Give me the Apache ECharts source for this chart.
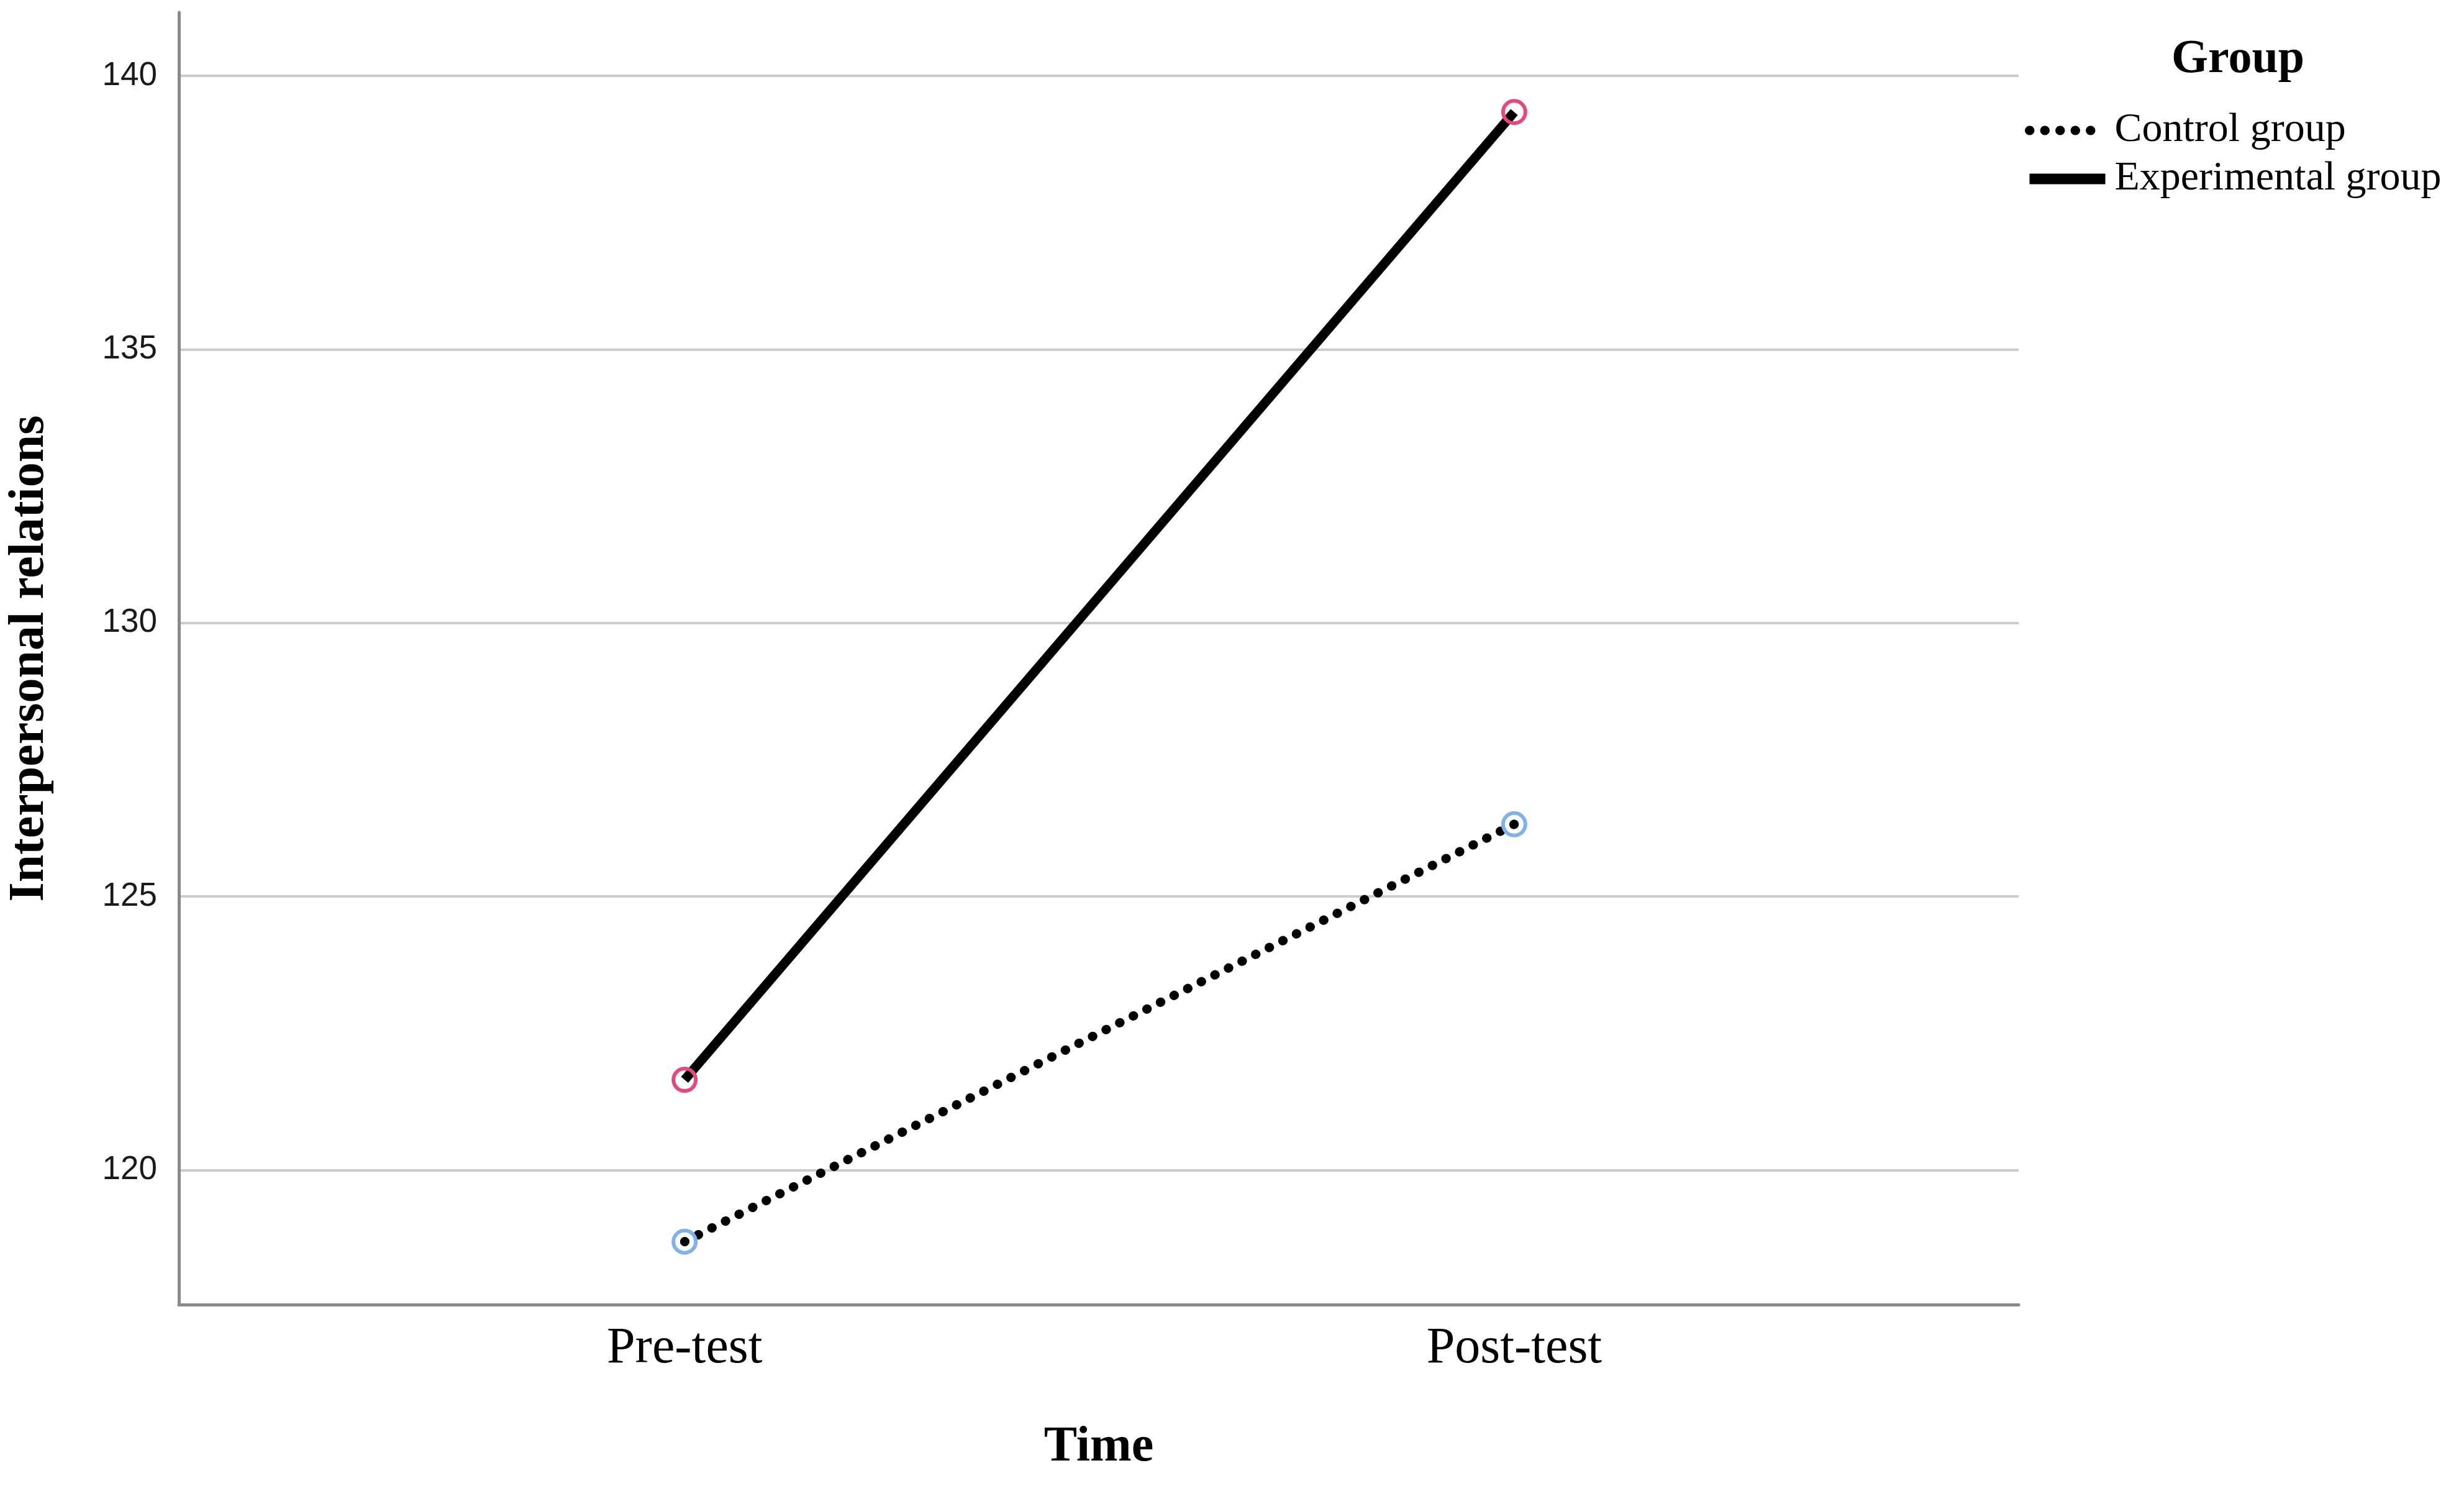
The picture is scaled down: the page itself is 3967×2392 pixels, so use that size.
<!DOCTYPE html>
<html>
<head>
<meta charset="utf-8">
<script src="https://cdn.jsdelivr.net/npm/echarts@6/dist/echarts.min.js"></script>
<style>
html,body{margin:0;padding:0;background:#fff;}
#chart{width:3967px;height:2392px;}
</style>
</head>
<body>
<div id="chart"></div>
<script>
// ---- data ----
var categories = ['Pre-test', 'Post-test'];
var seriesNames = ['Control group', 'Experimental group'];
var controlValues = [118.69, 126.32];
var experimentalValues = [121.65, 139.34];
var yTickLabels = [120, 125, 130, 135, 140];
var legendTitle = 'Group';
var xAxisTitle = 'Time';
var yAxisTitle = 'Interpersonal relations';

function toPairs(vals) {
  return vals.map(function (v, i) { return [i, v]; });
}

var serif = '"Liberation Serif", "DejaVu Serif", serif';
var sans = '"Liberation Sans", Arial, sans-serif';

var dotted = [0.5, 24];

var chart = echarts.init(document.getElementById('chart'), null, { renderer: 'canvas' });

var option = {
  backgroundColor: '#ffffff',
  animation: false,
  title: {
    text: legendTitle,
    left: 3491,
    top: 53,
    textStyle: { fontFamily: serif, fontWeight: 'bold', fontSize: 76, color: '#000' }
  },
  legend: {
    orient: 'vertical',
    left: 3254,
    top: 172,
    itemWidth: 122,
    itemHeight: 20,
    itemGap: 12,
    data: [
      { name: seriesNames[0], lineStyle: { color: '#000', width: 15, type: dotted, cap: 'round' } },
      { name: seriesNames[1], lineStyle: { color: '#000', width: 17, type: 'solid' } }
    ],
    itemStyle: { opacity: 0 },
    textStyle: { fontFamily: serif, fontSize: 66, color: '#000', lineHeight: 66, padding: [0, 0, 0, 10] }
  },
  grid: {
    left: 285,
    right: 717,
    top: 20,
    bottom: 292,
    containLabel: false
  },
  xAxis: {
    type: 'value',
    min: -0.6096,
    max: 1.608,
    name: xAxisTitle,
    nameLocation: 'middle',
    nameGap: 190,
    nameTextStyle: { fontFamily: serif, fontWeight: 'bold', fontSize: 80, color: '#000' },
    axisLine: { show: true, onZero: false, lineStyle: { color: '#8a8a8a', width: 5 } },
    axisTick: { show: false },
    splitLine: { show: false },
    axisLabel: {
      customValues: categories.map(function (c, i) { return i; }),
      formatter: function (v) { return categories[Math.round(v)] || ''; },
      fontFamily: serif,
      fontSize: 82,
      color: '#000',
      margin: 30
    }
  },
  yAxis: {
    type: 'value',
    min: 117.54,
    max: 141.16,
    name: yAxisTitle,
    nameLocation: 'middle',
    nameRotate: 90,
    nameGap: 200,
    nameTextStyle: { fontFamily: serif, fontWeight: 'bold', fontSize: 80, color: '#000' },
    axisLine: { show: true, onZero: false, lineStyle: { color: '#8a8a8a', width: 5 } },
    axisTick: { show: false },
    splitLine: {
      show: true,
      showMinLine: false,
      showMaxLine: false,
      lineStyle: { color: '#cccccc', width: 4 }
    },
    axisLabel: {
      customValues: yTickLabels,
      fontFamily: sans,
      fontSize: 53,
      color: '#1a1a1a',
      margin: 35
    }
  },
  series: [
    {
      name: seriesNames[0],
      type: 'line',
      data: toPairs(controlValues),
      symbol: 'circle',
      symbolSize: 36,
      z: 2,
      lineStyle: { color: '#000', width: 15, type: dotted, cap: 'round' },
      itemStyle: { color: 'rgba(0,0,0,0)', borderColor: '#7fb1ea', borderWidth: 6 }
    },
    {
      name: seriesNames[1],
      type: 'line',
      data: toPairs(experimentalValues),
      symbol: 'circle',
      symbolSize: 36,
      z: 3,
      lineStyle: { color: '#000', width: 15, type: 'solid' },
      itemStyle: { color: 'rgba(0,0,0,0)', borderColor: '#e5487a', borderWidth: 6 }
    }
  ]
};

chart.setOption(option);
</script>
</body>
</html>
